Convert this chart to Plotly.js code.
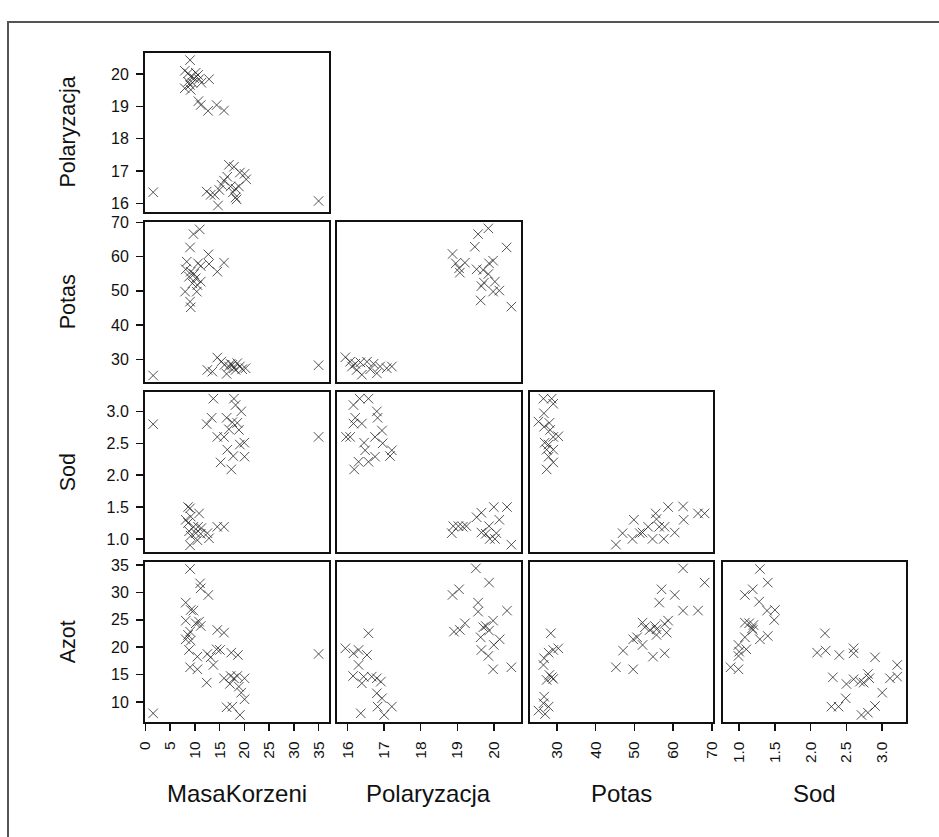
<!DOCTYPE html>
<html><head><meta charset="utf-8">
<script src="https://cdn.plot.ly/plotly-3.0.1.min.js"></script>
<style>html,body{margin:0;padding:0;background:#fff}#chart{width:939px;height:837px}</style>
</head><body><div id="chart"></div>
<script>
// Variable names (diagonal labels)
const xTitles = ["MasaKorzeni","Polaryzacja","Potas","Sod"];
const yTitles = ["Polaryzacja","Potas","Sod","Azot"];

// Tick values / labels
const masaTicks = [0,5,10,15,20,25,30,35];
const polTicks = [16,17,18,19,20];
const potTicks = [30,40,50,60,70];
const sodTicks = [1.0,1.5,2.0,2.5,3.0];
const sodTickText = ["1.0","1.5","2.0","2.5","3.0"];
const azotTicks = [10,15,20,25,30,35];

// Row 1: Polaryzacja vs MasaKorzeni
const r1c1_x = [9.05,7.98,8.65,10.19,10.66,9.19,9.86,10.87,8.65,9.52,9.05,7.98,9.19,12.88,11.33,10.73,11.2,12.68,14.42,15.9,16.9,17.91,19.11,20.05,20.39,16.57,15.9,15.43,14.96,17.24,18.24,18.91,17.71,18.24,18.44,12.41,13.21,14.02,14.69,1.6,35];
const r1c1_y = [20.43,20.10,20.02,20.04,19.97,19.92,19.87,19.84,19.76,19.73,19.66,19.56,19.51,19.84,19.73,19.16,19.04,18.86,19.04,18.87,17.19,17.13,16.95,16.91,16.74,16.82,16.70,16.57,16.41,16.52,16.45,16.52,16.34,16.18,16.12,16.36,16.26,16.26,15.93,16.34,16.07];

// Row 2: Potas vs MasaKorzeni, Polaryzacja
const r2c1_x = [1.6,35,11.0,9.73,9.05,12.74,8.38,10.66,15.9,12.88,11.2,14.55,8.18,9.19,9.86,8.85,10.19,11.2,9.52,10.53,8.05,10.4,9.05,9.19,14.55,12.54,13.55,15.36,16.43,16.0,16.9,17.57,17.91,18.58,19.1,19.58,20.25,18.24,17.24];
const r2c1_y = [25.26,28.27,67.98,66.6,62.7,60.68,58.54,58.05,58.25,57.86,57.27,55.62,56.3,55.62,54.94,54.16,53.67,52.7,52.2,51.7,49.78,49.78,46.86,45.2,30.51,26.9,26.4,29.33,25.74,28.37,27.9,28.37,27.4,28.86,27.9,27.1,27.4,26.9,28.66];
const r2c2_x = [19.85,19.57,19.48,20.35,18.87,18.96,19.21,19.05,19.07,19.53,19.87,19.98,19.71,19.85,20.03,19.73,19.66,19.98,20.15,19.64,20.48,15.94,16.07,16.21,16.35,16.53,16.71,16.89,17.07,17.21,16.25,16.39,16.8,16.12,16.62];
const r2c2_y = [68.27,66.6,62.9,62.7,60.78,58.05,58.25,56.6,55.33,56.3,58.05,58.83,56.1,54.94,52.7,52.4,51.4,49.8,50.1,47.2,45.4,30.6,29.3,28.7,29.1,29.3,28.7,27.9,27.4,27.9,26.9,25.5,25.9,27.9,27.1];

// Row 3: Sod vs MasaKorzeni, Polaryzacja, Potas
const r3c1_x = [1.6,35,13.75,17.9,18.24,19.38,13.41,12.41,16.43,17.57,18.58,16.9,18.91,14.55,15.9,20.0,19.1,16.57,17.77,20.05,15.22,17.37,8.65,9.05,10.87,8.18,8.65,9.19,9.73,10.66,11.33,14.55,15.9,8.85,10.19,9.19,11.2,12.54,12.88,10.53,9.05];
const r3c1_y = [2.80,2.60,3.20,3.20,3.10,3.0,2.90,2.80,2.90,2.83,2.82,2.72,2.71,2.60,2.60,2.51,2.48,2.40,2.30,2.29,2.20,2.09,1.50,1.48,1.40,1.30,1.25,1.35,1.19,1.19,1.17,1.19,1.19,1.12,1.09,1.05,1.08,1.09,1.01,0.98,0.90];
const r3c2_x = [16.33,16.57,16.16,16.8,16.21,16.82,16.16,16.39,16.94,16.75,15.96,16.07,16.96,16.45,16.48,17.21,17.16,16.75,16.3,16.57,16.18,20.0,20.36,19.66,19.53,20.15,19.87,18.89,19.03,19.15,19.25,18.85,19.66,19.78,20.07,19.89,20.03,20.48];
const r3c2_y = [3.20,3.20,3.10,3.0,2.90,2.90,2.81,2.81,2.70,2.60,2.60,2.60,2.50,2.51,2.39,2.39,2.30,2.29,2.21,2.21,2.09,1.50,1.50,1.41,1.34,1.30,1.20,1.20,1.20,1.19,1.20,1.09,1.10,1.08,1.09,1.0,1.0,0.91];
const r3c3_x = [26.57,28.7,29.1,26.7,25.3,28.1,26.75,28.3,30.4,29.1,26.9,27.9,29.1,27.4,27.9,29.1,27.4,45.25,46.96,49.5,49.87,52.1,53.55,54.67,55.5,55.7,56.4,57.8,57.58,58.7,60.4,62.55,62.7,66.4,68.1,51.4];
const r3c3_y = [3.20,3.20,3.12,2.97,2.84,2.82,2.76,2.71,2.61,2.60,2.51,2.48,2.40,2.40,2.29,2.20,2.09,0.91,1.09,1.0,1.30,1.10,1.19,1.0,1.40,1.31,1.19,1.19,1.0,1.50,1.10,1.51,1.30,1.40,1.40,1.09];

// Row 4: Azot vs MasaKorzeni, Polaryzacja, Potas, Sod
const r4c1_x = [1.6,35,9.05,11.07,11.2,12.74,8.18,9.19,9.73,8.18,10.19,10.87,11.2,9.05,8.65,8.18,9.19,8.85,10.53,14.55,15.9,14.42,15.09,12.54,13.21,13.75,17.37,18.71,9.05,10.53,12.41,15.9,17.24,17.91,18.58,20.05,18.91,19.38,20.05,16.43,17.57,19.11,17.1];
const r4c1_y = [7.93,18.76,34.27,31.65,30.74,29.53,28.13,26.79,26.67,24.84,24.36,24.66,23.87,22.83,22.23,21.44,21.2,19.49,18.27,23.14,22.65,19.61,19.49,18.76,18.15,16.75,19.0,18.57,16.33,15.96,13.53,14.32,14.74,14.32,14.74,14.32,12.8,11.7,10.49,9.03,9.15,7.63,13.3];
const r4c2_x = [19.51,19.87,18.87,19.05,19.57,19.57,20.36,19.21,18.91,19.07,19.71,19.78,19.98,19.87,19.64,20.16,20.0,19.66,19.85,19.98,20.48,16.57,15.94,16.16,16.3,16.53,16.3,16.15,16.44,16.66,16.8,16.91,16.39,16.8,16.94,16.82,17.21,17.0,16.36];
const r4c2_y = [34.39,31.78,29.53,30.56,28.13,26.48,26.67,24.36,22.83,23.14,23.63,23.87,24.84,23.02,21.8,21.44,20.4,19.49,18.4,15.96,16.33,22.53,19.79,18.88,19.49,18.57,16.75,14.74,14.62,14.62,14.32,13.71,13.41,11.58,10.67,9.15,9.15,7.63,7.93];
const r4c3_x = [62.55,68.1,57.0,60.4,56.4,62.55,66.4,52.1,52.7,58.7,57.8,55.3,55.7,53.98,55.7,58.3,49.7,50.7,52.1,47.1,54.8,57.8,45.25,49.7,28.46,30.4,29.1,27.9,26.75,26.57,28.1,28.7,27.4,26.75,26.57,27.9,25.3,27.0,29.1];
const r4c3_y = [34.39,31.78,30.56,29.53,28.13,26.67,26.67,24.48,23.63,24.84,24.24,23.87,23.26,23.14,22.23,22.65,21.44,21.8,20.4,19.37,18.27,18.88,16.33,15.96,22.53,19.79,19.49,19.0,17.97,16.75,14.93,14.5,14.02,10.97,9.76,9.15,8.42,7.81,14.2];
const r4c4_x = [1.29,1.40,1.19,1.08,1.28,1.39,1.50,1.49,1.08,1.14,1.2,1.18,1.19,1.08,1.29,1.40,0.99,1.1,1.0,0.99,0.88,0.99,2.2,2.09,2.21,2.40,2.60,2.60,2.90,3.21,2.31,2.50,2.60,2.69,2.80,2.82,2.74,3.11,3.21,3.0,2.49,2.29,2.39,2.90,2.80,2.71];
const r4c4_y = [34.27,31.78,30.56,29.53,28.31,26.67,26.79,24.96,24.48,24.36,24.05,23.44,23.14,21.8,21.44,22.04,20.4,19.61,19.18,18.39,16.33,15.96,22.53,19.0,19.37,18.57,19.79,18.88,18.15,16.75,14.5,13.28,14.14,13.71,15.1,14.32,13.53,14.32,14.62,11.7,10.67,9.15,9.15,9.27,8.05,7.63];

const panels = [
  {r:0,c:0,x:r1c1_x,y:r1c1_y},
  {r:1,c:0,x:r2c1_x,y:r2c1_y},{r:1,c:1,x:r2c2_x,y:r2c2_y},
  {r:2,c:0,x:r3c1_x,y:r3c1_y},{r:2,c:1,x:r3c2_x,y:r3c2_y},{r:2,c:2,x:r3c3_x,y:r3c3_y},
  {r:3,c:0,x:r4c1_x,y:r4c1_y},{r:3,c:1,x:r4c2_x,y:r4c2_y},{r:3,c:2,x:r4c3_x,y:r4c3_y},{r:3,c:3,x:r4c4_x,y:r4c4_y}
];

const W = 939, H = 837;
const colPx = [[145,328.5],[337,520.5],[529.5,713],[722.5,905.5]];
const rowPx = [[52.7,212.3],[222.3,382.3],[392.3,552.3],[562.3,722.3]];
const xRanges = [[-0.05,37.0],[15.71,20.73],[22.98,70.26],[0.767,3.326]];
const yRanges = [[15.72,20.66],[23.28,70.05],[0.79,3.30],[6.29,35.49]];
const xTickVals = [masaTicks, polTicks, potTicks, sodTicks];
const xTickText = [masaTicks.map(String), polTicks.map(String), potTicks.map(String), sodTickText];
const yTickVals = [polTicks, potTicks, sodTicks, azotTicks];
const yTickText = [polTicks.map(String), potTicks.map(String), sodTickText, azotTicks.map(String)];

const FONT = 'Liberation Sans, Arial, sans-serif';
const ink = '#111';
const markCol = 'rgba(35,35,35,0.78)';

const data = [];
const layout = {
  width: W, height: H,
  margin: {l:0, r:0, t:0, b:0},
  paper_bgcolor: '#ffffff', plot_bgcolor: '#ffffff',
  showlegend: false,
  font: {family: FONT, color: ink},
  annotations: [], shapes: []
};

panels.forEach((p, i) => {
  const k = i + 1, sfx = k === 1 ? '' : String(k);
  data.push({
    type: 'scatter', mode: 'markers', x: p.x, y: p.y,
    xaxis: 'x' + sfx, yaxis: 'y' + sfx, hoverinfo: 'x+y',
    marker: {symbol: 'x-thin-open', size: 9.5, color: markCol, line: {width: 1, color: markCol}}
  });
  const bottom = p.r === 3, left = p.c === 0;
  layout['xaxis' + sfx] = {
    domain: [colPx[p.c][0] / W, colPx[p.c][1] / W],
    range: xRanges[p.c], anchor: 'y' + sfx,
    showline: true, mirror: true, linecolor: ink, linewidth: 2,
    showgrid: false, zeroline: false,
    ticks: bottom ? 'outside' : '', ticklen: 7, tickwidth: 1.5, tickcolor: ink,
    showticklabels: bottom, tickmode: 'array', ticklabelstandoff: 4,
    tickvals: xTickVals[p.c], ticktext: xTickText[p.c], tickangle: -90,
    tickfont: {family: FONT, size: 15.5, color: ink}, fixedrange: true
  };
  layout['yaxis' + sfx] = {
    domain: [(H - rowPx[p.r][1]) / H, (H - rowPx[p.r][0]) / H],
    range: yRanges[p.r], anchor: 'x' + sfx,
    showline: true, mirror: true, linecolor: ink, linewidth: 2,
    showgrid: false, zeroline: false,
    ticks: left ? 'outside' : '', ticklen: 7, tickwidth: 1.5, tickcolor: ink,
    showticklabels: left, tickmode: 'array', ticklabelstandoff: 4,
    tickvals: yTickVals[p.r], ticktext: yTickText[p.r],
    tickfont: {family: FONT, size: 16, color: ink}, fixedrange: true
  };
});

yTitles.forEach((t, r) => {
  layout.annotations.push({
    text: t, xref: 'paper', yref: 'paper', x: 68 / W,
    y: (H - (rowPx[r][0] + rowPx[r][1]) / 2) / H,
    xanchor: 'center', yanchor: 'middle', textangle: -90, showarrow: false,
    font: {family: FONT, size: 21.5, color: ink}
  });
});
xTitles.forEach((t, c) => {
  layout.annotations.push({
    text: t, xref: 'paper', yref: 'paper',
    x: (colPx[c][0] + colPx[c][1]) / 2 / W, y: (H - 793) / H,
    xanchor: 'center', yanchor: 'middle', showarrow: false,
    font: {family: FONT, size: 24, color: ink}
  });
});

// outer frame of the figure
layout.shapes.push({
  type: 'rect', xref: 'paper', yref: 'paper',
  x0: 8 / W, x1: 1.05, y0: -0.05, y1: (H - 22) / H,
  line: {color: '#555', width: 2}, fillcolor: 'rgba(0,0,0,0)', layer: 'below'
});

Plotly.newPlot('chart', data, layout, {displayModeBar: false, staticPlot: true});
</script>
</body></html>
